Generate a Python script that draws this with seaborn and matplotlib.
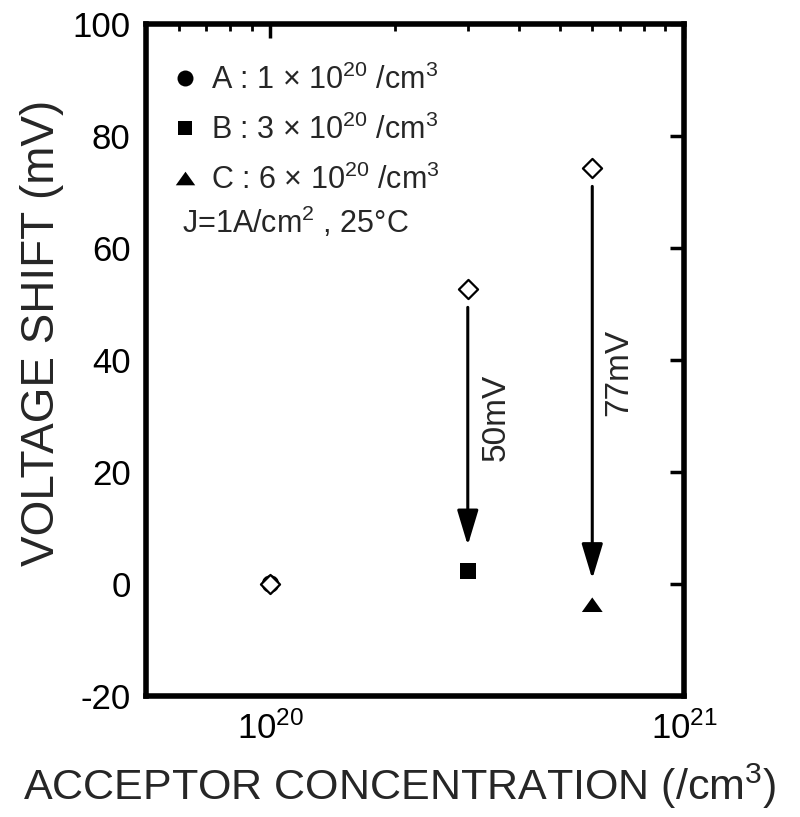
import matplotlib
matplotlib.use("Agg")
import matplotlib.pyplot as plt
import seaborn as sns
import numpy as np
import pandas as pd
from matplotlib.path import Path
from matplotlib.patches import ArrowStyle
from matplotlib.ticker import LogLocator, NullFormatter, MultipleLocator

# ---- data ----
concentration = [1e20, 3e20, 6e20]          # /cm3
sample_names = ["A", "B", "C"]
sample_mult = [1, 3, 6]
shift_before = [0.0, 52.7, 74.3]            # open diamonds (mV)
shift_after = [0.0, 2.3, -3.7]              # filled markers (mV)
shift_labels = ["50mV", "77mV"]

sns.set_style("white")
plt.rcParams["font.family"] = ["Liberation Sans", "DejaVu Sans"]
plt.rcParams["mathtext.fontset"] = "custom"
plt.rcParams["mathtext.rm"] = "Liberation Sans"
plt.rcParams["mathtext.it"] = "Liberation Sans:italic"
plt.rcParams["mathtext.bf"] = "Liberation Sans:bold"
plt.rcParams["mathtext.default"] = "regular"
plt.rcParams["axes.unicode_minus"] = False

fig = plt.figure(figsize=(8, 8.17), dpi=100)
ax = fig.add_axes([146 / 800, 1 - 696 / 817, 538 / 800, 672 / 817])

labels = [f"{n} : {m} × 10$^{{20}}$ /cm$^3$" for n, m in zip(sample_names, sample_mult)]
df = pd.DataFrame({"conc": concentration, "shift": shift_after, "label": labels})

tri = Path([(-1, -0.7), (1, -0.7), (0, 0.7), (-1, -0.7)], closed=True)
markers = {labels[0]: "o", labels[1]: "s", labels[2]: tri}
sizes = {labels[0]: 160, labels[1]: 140, labels[2]: 225}
legend_ms = {labels[0]: 11.5, labels[1]: 10.5, labels[2]: 14}

sns.scatterplot(data=df, x="conc", y="shift", style="label", size="label",
                markers=markers, sizes=sizes, color="k", edgecolor="k",
                linewidth=0, ax=ax, zorder=3)

sns.scatterplot(x=concentration, y=shift_before, marker="D", s=95,
                facecolor="white", edgecolor="k", linewidth=1.6,
                ax=ax, legend=False, zorder=4)

handles, labs = ax.get_legend_handles_labels()
for h, l in zip(handles, labs):
    if l in legend_ms:
        h.set_markersize(legend_ms[l])
        h.set_markerfacecolor("k")
        h.set_markeredgecolor("k")
        h.set_markeredgewidth(0)
ax.legend(handles=handles, labels=labs, loc="upper left",
          bbox_to_anchor=(0.045, 0.94), frameon=False, fontsize=22,
          handlelength=1.0, handletextpad=0.35, borderpad=0, borderaxespad=0,
          labelspacing=0.62)

ax.text(0.067, 0.705, "J=1A/cm$^2$ , 25°C", transform=ax.transAxes,
        fontsize=22, ha="left", va="center")

# arrows and shift labels
for i in [1, 2]:
    x = concentration[i]
    ax.annotate("", xy=(x, shift_after[i] + 4.6), xytext=(x, shift_before[i] - 3.3),
                arrowprops=dict(arrowstyle=ArrowStyle("-|>", head_length=2.16, head_width=0.65),
                                mutation_scale=10, lw=2.2, color="k",
                                shrinkA=0, shrinkB=0), zorder=2)
ax.text(concentration[1] * 10 ** 0.068, 29.8, shift_labels[0], rotation=90,
        fontsize=24, ha="center", va="center")
ax.text(concentration[2] * 10 ** 0.063, 37.7, shift_labels[1], rotation=90,
        fontsize=24, ha="center", va="center")

ax.set_xscale("log")
ax.set_xlim(5e19, 1e21)
ax.set_ylim(-20, 100)
ax.yaxis.set_major_locator(MultipleLocator(20))
ax.xaxis.set_major_locator(LogLocator(base=10))
ax.xaxis.set_minor_locator(LogLocator(base=10, subs=np.arange(2, 10)))
ax.xaxis.set_minor_formatter(NullFormatter())

ax.tick_params(which="both", direction="in", top=True, right=True, colors="k")
ax.tick_params(which="major", length=10, width=2.5, labelsize=25, pad=11)
ax.tick_params(which="minor", length=5, width=2)
for sp in ax.spines.values():
    sp.set_linewidth(4)
    sp.set_color("k")

ax.set_xlabel("ACCEPTOR CONCENTRATION (/cm$^3$)", fontsize=31)
ax.set_ylabel("VOLTAGE SHIFT (mV)", fontsize=33)
ax.xaxis.set_label_coords(0.472, -0.097)
ax.yaxis.set_label_coords(-0.152, 0.54)

fig.savefig("out.png", dpi=100, facecolor="white")
